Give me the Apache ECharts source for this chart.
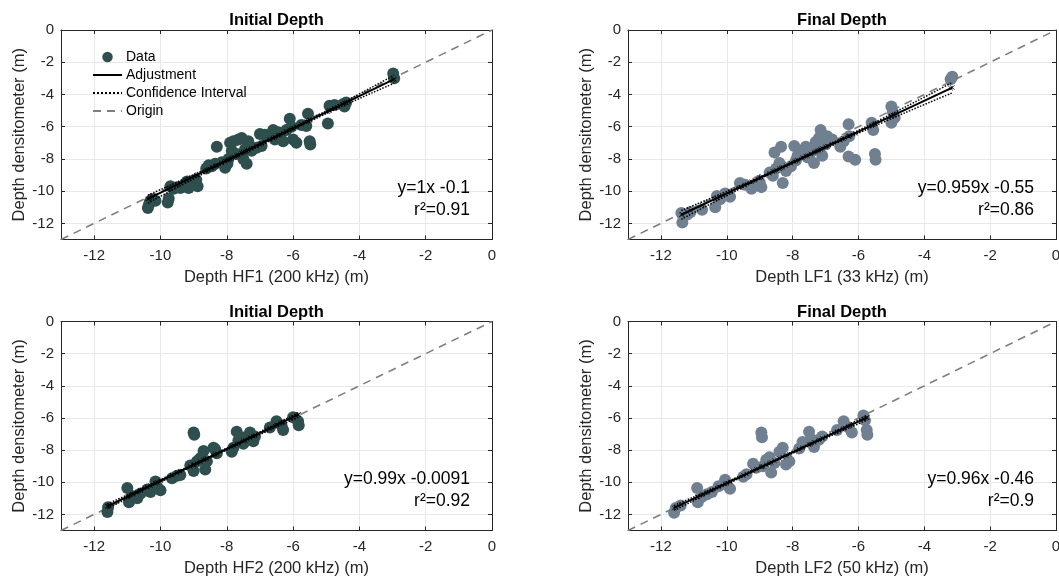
<!DOCTYPE html>
<html>
<head>
<meta charset="utf-8">
<script src="https://cdn.jsdelivr.net/npm/echarts@6/dist/echarts.min.js"></script>
<style>
  html, body { margin: 0; padding: 0; background: #fff; }
  #chart { width: 1059px; height: 580px; }
</style>
</head>
<body>
<div id="chart"></div>
<script>
// Axis range and tick labels shared by all four panels (depths in metres)
const axisMin = -13;
const axisMax = 0;
const xTickValues = [-12, -10, -8, -6, -4, -2, 0];
const yTickValues = [0, -2, -4, -6, -8, -10, -12];

// Panel titles and axis names
const panelTitles = ['Initial Depth', 'Final Depth', 'Initial Depth', 'Final Depth'];
const xAxisNames = ['Depth HF1 (200 kHz) (m)', 'Depth LF1 (33 kHz) (m)', 'Depth HF2 (200 kHz) (m)', 'Depth LF2 (50 kHz) (m)'];
const yAxisName = 'Depth densitometer (m)';

// Regression results per panel: slope, intercept, r²
const fitSlopes = [1, 0.959, 0.99, 0.96];
const fitIntercepts = [-0.1, -0.55, -0.0091, -0.46];
const fitR2 = [0.91, 0.86, 0.92, 0.9];
const fitLabels = ['y=1x -0.1', 'y=0.959x -0.55', 'y=0.99x -0.0091', 'y=0.96x -0.46'];

// Measured pairs [echo sounder depth, densitometer depth]
const hf1Data = [
  [-10.38,-11.05],[-10.35,-10.85],[-10.32,-10.65],[-10.25,-10.5],[-10.15,-10.6],
  [-9.78,-10.7],[-9.75,-10.45],[-9.7,-9.7],[-9.6,-9.85],[-9.5,-9.75],[-9.4,-9.8],
  [-9.3,-9.65],[-9.2,-9.4],[-9.15,-9.8],[-9.05,-9.55],[-8.92,-9.3],[-8.88,-9.7],
  [-8.62,-8.6],[-8.55,-8.4],[-8.45,-8.45],[-8.35,-8.3],[-8.3,-7.25],[-8.15,-8.2],
  [-8.05,-8.55],[-7.98,-8.3],[-7.95,-8.0],[-7.9,-7.0],[-7.85,-7.5],[-7.8,-6.9],
  [-7.7,-7.7],[-7.65,-6.8],[-7.55,-6.7],[-7.5,-8.0],[-7.45,-7.4],[-7.4,-8.3],
  [-7.35,-6.9],[-7.25,-7.5],[-7.1,-7.3],[-7.0,-6.45],[-6.95,-7.2],[-6.85,-6.5],
  [-6.7,-6.5],[-6.6,-6.2],[-6.55,-6.8],[-6.45,-6.35],[-6.4,-6.6],[-6.3,-6.9],
  [-6.2,-6.2],[-6.1,-5.5],[-6.05,-6.0],[-6.0,-6.8],[-5.9,-7.0],[-5.75,-5.9],
  [-5.6,-5.95],[-5.55,-5.2],[-5.5,-6.9],[-5.48,-7.1],
  [-4.95,-5.8],[-4.9,-4.7],[-4.75,-4.65],[-4.5,-4.6],[-4.45,-4.75],[-4.4,-4.5],
  [-2.98,-2.7],[-2.95,-3.0]
];
const lf1Data = [
  [-11.38,-11.35],[-11.35,-11.95],[-11.2,-11.45],[-11.1,-11.3],[-10.75,-11.15],
  [-10.35,-11.0],[-10.3,-10.3],[-10.2,-10.5],[-10.05,-10.15],[-9.9,-10.35],
  [-9.6,-9.5],[-9.45,-9.6],[-9.25,-9.85],[-9.15,-9.6],[-9.0,-9.45],[-8.95,-9.75],
  [-8.7,-8.85],[-8.6,-9.05],[-8.55,-7.6],[-8.5,-8.6],[-8.4,-8.25],[-8.35,-7.25],
  [-8.3,-9.5],[-8.2,-8.75],[-8.05,-8.45],[-7.95,-7.2],[-7.9,-8.1],[-7.85,-7.8],
  [-7.7,-7.55],[-7.6,-7.25],[-7.55,-7.9],[-7.45,-7.6],[-7.35,-8.25],[-7.3,-6.95],
  [-7.25,-7.35],[-7.2,-6.7],[-7.15,-6.2],[-7.1,-7.8],[-7.0,-7.1],[-6.95,-6.6],
  [-6.8,-6.8],[-6.55,-7.25],[-6.45,-6.9],[-6.3,-5.85],[-6.28,-6.6],[-6.3,-7.85],
  [-6.1,-8.05],[-5.6,-5.75],[-5.55,-6.2],[-5.5,-7.7],[-5.48,-8.05],
  [-5.0,-4.75],[-4.95,-5.1],[-5.0,-5.75],[-4.9,-5.45],[-3.15,-2.9],[-3.2,-3.05]
];
const hf2Data = [
  [-11.6,-11.85],[-11.58,-11.55],[-11.0,-10.35],[-10.95,-11.25],[-10.85,-10.85],
  [-10.7,-11.0],[-10.6,-10.7],[-10.4,-10.45],[-10.3,-10.6],[-10.15,-9.95],
  [-10.1,-10.3],[-10.0,-10.5],[-9.65,-9.75],[-9.5,-9.6],[-9.4,-9.55],
  [-9.0,-6.9],[-8.98,-7.05],[-9.1,-8.95],[-9.0,-9.3],[-8.9,-8.7],[-8.8,-8.5],
  [-8.7,-8.05],[-8.65,-9.2],[-8.6,-8.7],[-8.4,-7.85],[-8.3,-8.2],[-8.35,-7.95],
  [-7.85,-8.1],[-7.8,-7.85],[-7.7,-6.85],[-7.65,-7.4],[-7.5,-7.6],[-7.45,-7.2],
  [-7.3,-6.9],[-7.2,-7.45],[-7.15,-7.15],[-6.7,-6.6],[-6.5,-6.2],[-6.35,-6.45],
  [-6.3,-6.75],[-6.0,-5.95],[-5.85,-6.2],[-5.83,-6.45]
];
const lf2Data = [
  [-11.6,-11.9],[-11.55,-11.6],[-11.4,-11.45],[-10.9,-10.35],[-10.88,-11.25],
  [-10.75,-10.9],[-10.6,-10.75],[-10.45,-10.6],[-10.25,-10.25],[-10.05,-9.85],
  [-10.0,-10.15],[-9.9,-10.4],[-9.5,-9.65],[-9.4,-9.5],[-9.2,-8.85],[-9.1,-9.1],
  [-8.95,-6.9],[-8.93,-7.2],[-8.9,-9.0],[-8.8,-8.6],[-8.7,-8.45],[-8.65,-9.4],
  [-8.55,-8.8],[-8.4,-8.1],[-8.3,-7.85],[-8.2,-8.9],[-8.1,-8.7],[-7.8,-7.9],
  [-7.7,-7.5],[-7.5,-6.85],[-7.45,-7.3],[-7.35,-7.8],[-7.2,-7.35],[-7.1,-7.15],
  [-6.65,-6.75],[-6.45,-6.2],[-6.3,-6.6],[-6.2,-6.9],[-5.85,-5.85],[-5.8,-6.15],
  [-5.75,-6.75],[-5.73,-7.05]
];
const panelData = [hf1Data, lf1Data, hf2Data, lf2Data];
const panelColors = ['#2F4F4F', '#708090', '#2F4F4F', '#708090'];

// Confidence bounds of the fit, sampled along x
const ciUpper = [
  [[-10.38,-10.25],[-8.5,-8.5],[-6.7,-6.72],[-4.8,-4.82],[-2.95,-2.8]],
  [[-11.38,-11.2],[-9.2,-9.3],[-7.3,-7.48],[-5.2,-5.42],[-3.15,-3.25]],
  [[-11.6,-11.35],[-8.7,-8.57],[-5.83,-5.66]],
  [[-11.6,-11.45],[-8.7,-8.76],[-5.73,-5.84]]
];
const ciLower = [
  [[-10.38,-10.75],[-8.5,-8.7],[-6.7,-6.88],[-4.8,-5.0],[-2.95,-3.3]],
  [[-11.38,-11.75],[-9.2,-9.45],[-7.3,-7.62],[-5.2,-5.68],[-3.15,-3.9]],
  [[-11.6,-11.63],[-8.7,-8.67],[-5.83,-5.94]],
  [[-11.6,-11.75],[-8.7,-8.86],[-5.73,-6.12]]
];

// Panel layout (plot rectangles)
const grids = [
  { left: 61, top: 30, width: 431, height: 209.5 },
  { left: 628, top: 30, width: 428, height: 209.5 },
  { left: 61, top: 321.5, width: 431, height: 209 },
  { left: 628, top: 321.5, width: 428, height: 209 }
];

const FONT = '"Liberation Sans", Arial, Helvetica, sans-serif';
const AXIS_COLOR = '#262626';
const crossSymbol = 'path://M0,1L1,0L5,4L9,0L10,1L6,5L10,9L9,10L5,6L1,10L0,9L4,5Z';

const chart = echarts.init(document.getElementById('chart'), null, { renderer: 'canvas' });

const xAxes = [], yAxes = [], series = [], titles = [], graphics = [];

grids.forEach((g, i) => {
  // main bottom / left axes
  xAxes.push({
    gridIndex: i, type: 'value', min: axisMin, max: axisMax, position: 'bottom',
    name: xAxisNames[i], nameLocation: 'middle', nameGap: 29,
    nameTextStyle: { fontFamily: FONT, fontSize: 16.5, color: AXIS_COLOR },
    axisLine: { show: true, onZero: false, lineStyle: { color: AXIS_COLOR, width: 1 } },
    axisTick: { show: true, inside: true, length: 4, customValues: xTickValues, lineStyle: { color: AXIS_COLOR } },
    axisLabel: { customValues: xTickValues, fontFamily: FONT, fontSize: 15, color: AXIS_COLOR, margin: 9 },
    splitLine: { show: true, lineStyle: { color: '#e8e8e8', width: 1 } }
  });
  yAxes.push({
    gridIndex: i, type: 'value', min: axisMin, max: axisMax, position: 'left',
    name: yAxisName, nameLocation: 'middle', nameGap: 32, nameRotate: 90,
    nameTextStyle: { fontFamily: FONT, fontSize: 16.5, color: AXIS_COLOR },
    axisLine: { show: true, onZero: false, lineStyle: { color: AXIS_COLOR, width: 1 } },
    axisTick: { show: true, inside: true, length: 4, customValues: yTickValues, lineStyle: { color: AXIS_COLOR } },
    axisLabel: { customValues: yTickValues, fontFamily: FONT, fontSize: 15, color: AXIS_COLOR, margin: 7 },
    splitLine: { show: true, lineStyle: { color: '#e8e8e8', width: 1 } }
  });

  titles.push({
    text: panelTitles[i],
    left: g.left + g.width / 2, top: g.top - 18, textAlign: 'center',
    padding: 0,
    textStyle: { fontFamily: FONT, fontSize: 16.5, fontWeight: 'bold', color: '#000' }
  });

  const a = fitSlopes[i], b = fitIntercepts[i];
  const xs = panelData[i].map(p => p[0]);
  const xMinFit = Math.min(...xs), xMaxFit = Math.max(...xs);

  // reference line y = x
  series.push({
    name: 'Origin', type: 'line', xAxisIndex: i, yAxisIndex: i,
    data: [[axisMin, axisMin], [axisMax, axisMax]],
    showSymbol: false, symbol: 'none', silent: true, z: 1,
    itemStyle: { color: '#7f7f7f' },
    lineStyle: { color: '#7f7f7f', width: 1.6, type: [8, 6] }
  });
  // measured points
  series.push({
    name: 'Data', type: 'scatter', xAxisIndex: i, yAxisIndex: i,
    data: panelData[i], symbol: 'circle', symbolSize: 12, z: 2,
    itemStyle: { color: panelColors[i], opacity: 1 }
  });
  // linear fit
  series.push({
    name: 'Adjustment', type: 'line', xAxisIndex: i, yAxisIndex: i,
    data: [[xMinFit, a * xMinFit + b], [xMaxFit, a * xMaxFit + b]],
    showSymbol: false, symbol: 'none', z: 4,
    itemStyle: { color: '#000' },
    lineStyle: { color: '#000', width: 2 }
  });
  // fit evaluated at each measurement
  series.push({
    name: 'fit samples', type: 'scatter', xAxisIndex: i, yAxisIndex: i,
    data: xs.map(x => [x, a * x + b]), symbol: crossSymbol, symbolSize: 5, z: 4, silent: true,
    itemStyle: { color: '#000' }
  });
  // confidence bounds
  [ciUpper[i], ciLower[i]].forEach(ci => {
    series.push({
      name: 'Confidence Interval', type: 'line', xAxisIndex: i, yAxisIndex: i,
      data: ci, smooth: true, showSymbol: false, symbol: 'none', z: 3,
      itemStyle: { color: '#000' },
      lineStyle: { color: '#000', width: 1.5, type: 'dotted' }
    });
  });

  // regression annotation
  const right = g.left + g.width - 22;
  const yLine = g.top + g.height * 0.755;
  graphics.push({
    type: 'text', x: right, y: yLine, z: 100,
    style: { text: fitLabels[i], align: 'right', verticalAlign: 'middle', fontFamily: FONT, fontSize: 17.5, fill: '#000' }
  });
  graphics.push({
    type: 'text', x: right, y: yLine + 22, z: 100,
    style: { text: 'r\u00b2=' + fitR2[i], align: 'right', verticalAlign: 'middle', fontFamily: FONT, fontSize: 17.5, fill: '#000' }
  });
});

// box: top / right axes carrying inward ticks only
grids.forEach((g, i) => {
  xAxes.push({
    gridIndex: i, type: 'value', min: axisMin, max: axisMax, position: 'top',
    axisLine: { show: true, onZero: false, lineStyle: { color: AXIS_COLOR, width: 1 } },
    axisTick: { show: true, inside: true, length: 4, customValues: xTickValues, lineStyle: { color: AXIS_COLOR } },
    axisLabel: { show: false }, splitLine: { show: false }
  });
  yAxes.push({
    gridIndex: i, type: 'value', min: axisMin, max: axisMax, position: 'right',
    axisLine: { show: true, onZero: false, lineStyle: { color: AXIS_COLOR, width: 1 } },
    axisTick: { show: true, inside: true, length: 4, customValues: yTickValues, lineStyle: { color: AXIS_COLOR } },
    axisLabel: { show: false }, splitLine: { show: false }
  });
});

const hiddenMarker = { opacity: 0 };

chart.setOption({
  backgroundColor: '#fff',
  animation: false,
  title: titles,
  grid: grids.map(g => Object.assign({ containLabel: false, outerBoundsMode: 'none' }, g)),
  xAxis: xAxes,
  yAxis: yAxes,
  legend: {
    data: [
      { name: 'Data' },
      { name: 'Adjustment', itemStyle: hiddenMarker },
      { name: 'Confidence Interval', itemStyle: hiddenMarker },
      { name: 'Origin', itemStyle: hiddenMarker }
    ],
    orient: 'vertical', left: 92, top: 50, padding: 0,
    itemWidth: 29, itemHeight: 10.5, itemGap: 4,
    selectedMode: false,
    textStyle: { fontFamily: FONT, fontSize: 14, color: '#000', padding: [0, 0, 0, -1] }
  },
  graphic: graphics,
  series: series
});
</script>
</body>
</html>
